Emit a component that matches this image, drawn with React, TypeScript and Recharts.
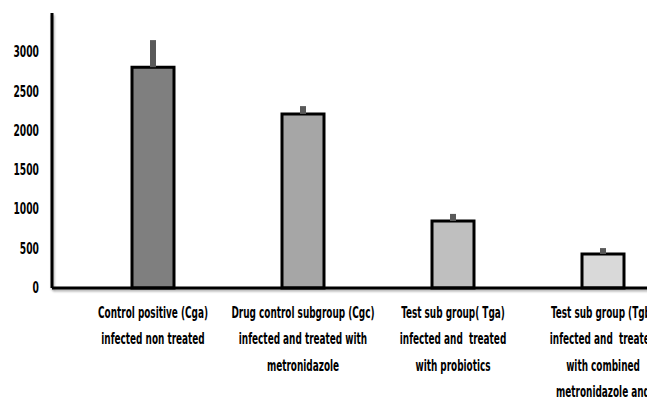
import { Bar, BarChart, Cell, ErrorBar, XAxis, YAxis } from 'recharts'

const groups = ['Cga', 'Cgc', 'Tga', 'Tgb']
const groupLabels: string[][] = [
  ['Control positive (Cga)', 'infected non treated'],
  ['Drug control subgroup (Cgc)', 'infected and treated with', 'metronidazole'],
  ['Test sub group( Tga)', 'infected and  treated', 'with probiotics'],
  ['Test sub group (Tgb)', 'infected and  treated', 'with combined', 'metronidazole and'],
]
const means = [2810, 2215, 853, 433]
const errorsUp = [345, 100, 90, 75]
const yTicks = [0, 500, 1000, 1500, 2000, 2500, 3000]
const fills = ['#7f7f7f', '#a6a6a6', '#bfbfbf', '#d9d9d9']

const font = "'DejaVu Sans Condensed', 'DejaVu Sans', Arial, sans-serif"
const axisShadow = { stroke: '#000', strokeWidth: 3, style: { filter: 'drop-shadow(1px 2px 1px rgba(0,0,0,0.3))' } }

const data = groups.map((g, i) => ({ group: g, value: means[i], err: [0, errorsUp[i]] }))

// narrow bold text, the original uses a condensed Office font
function GroupTick({ x, y, payload }: { x?: number; y?: number; payload?: { index: number } }) {
  const lines = groupLabels[payload?.index ?? 0] ?? []
  return (
    <g transform={`translate(${x ?? 0},${y ?? 0})`}>
      <text transform="scale(0.66,1)" textAnchor="middle" fontFamily={font} fontWeight="bold" fontSize={15} fill="#000">
        {lines.map((line, i) => (
          <tspan key={i} x={0} y={28 + i * 26.5} style={{ whiteSpace: 'pre' }}>
            {line}
          </tspan>
        ))}
      </text>
    </g>
  )
}

function ValueTick({ x, y, payload }: { x?: number; y?: number; payload?: { value: number } }) {
  return (
    <g transform={`translate(${x ?? 0},${y ?? 0})`}>
      <text transform="scale(0.68,1)" textAnchor="end" dy={5} fontFamily={font} fontWeight="bold" fontSize={15} fill="#000">
        {payload?.value}
      </text>
    </g>
  )
}

export default function App() {
  return (
    <div style={{ position: 'absolute', left: 0, top: 0, width: 647, height: 401, overflow: 'hidden', background: '#fff' }}>
      <BarChart width={678} height={401} data={data} margin={{ top: 13, right: 0, bottom: 0, left: 0 }}>
        <YAxis
          width={52}
          domain={[0, 3500]}
          ticks={yTicks}
          tickLine={false}
          tickSize={0}
          tickMargin={13}
          axisLine={axisShadow}
          tick={<ValueTick />}
        />
        <XAxis
          dataKey="group"
          height={113}
          interval={0}
          tickLine={false}
          tickSize={0}
          padding={{ left: 26, right: 0 }}
          axisLine={axisShadow}
          tick={<GroupTick />}
        />
        <Bar dataKey="value" barSize={42} stroke="#000" strokeWidth={3} isAnimationActive={false}>
          {data.map((d, i) => (
            <Cell key={d.group} fill={fills[i]} />
          ))}
          <ErrorBar dataKey="err" direction="y" width={0} stroke="#595959" strokeWidth={6} isAnimationActive={false} />
        </Bar>
      </BarChart>
    </div>
  )
}
